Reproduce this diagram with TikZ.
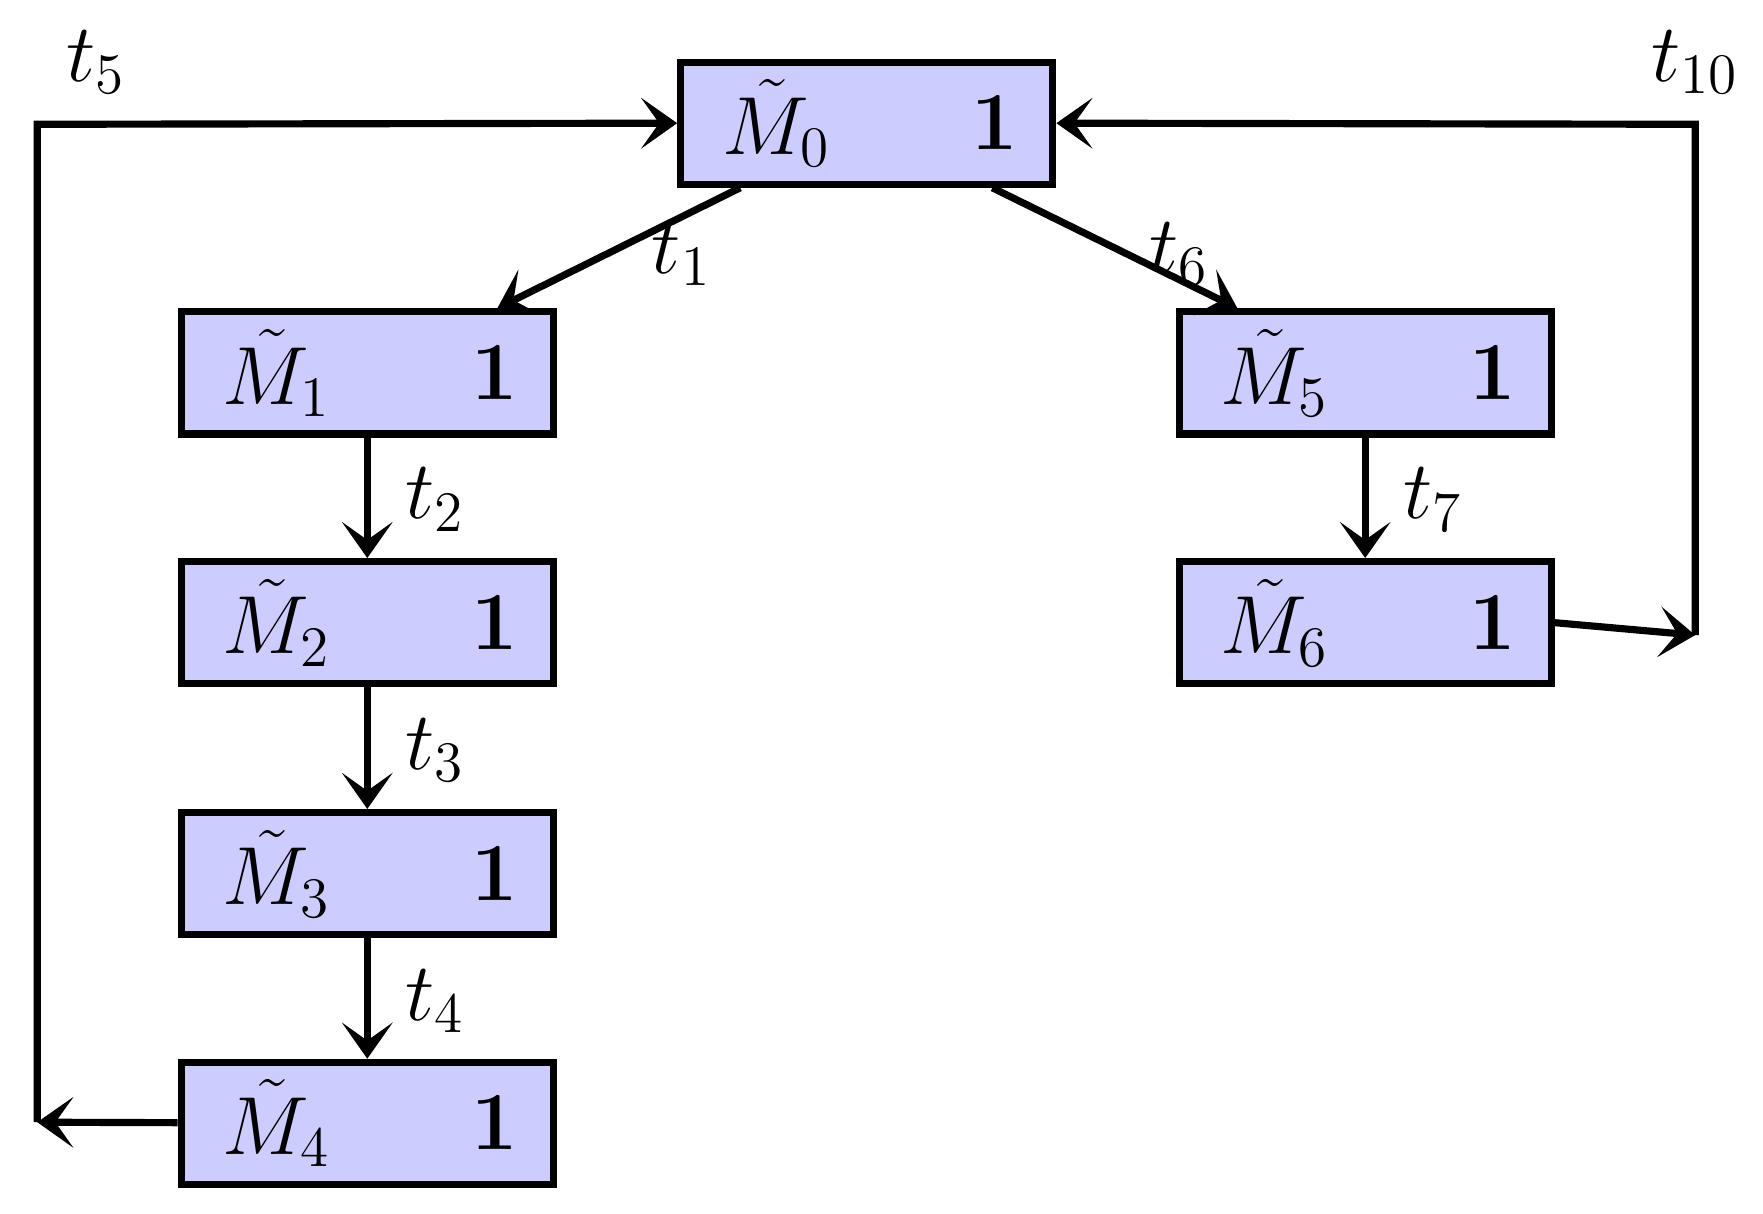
\documentclass[tikz,border=0pt]{standalone}
\usetikzlibrary{arrows.meta}
\begin{document}
\begin{tikzpicture}[x=0.01cm,y=-0.01cm,
  box/.style={draw=black,fill={rgb,255:red,204;green,204;blue,255},line width=1.8pt,minimum width=3.29cm,minimum height=1.08cm,inner sep=0pt},
  arr/.style={line width=1.8pt,-{Stealth[length=3.2mm,width=4.5mm,inset=1.6mm,line width=0.6pt]}},
  lab/.style={font=\fontsize{22}{26}\selectfont}]
\useasboundingbox (0,0) rectangle (1560,1074);
\newcommand{\mybox}[4]{%
  \node[box] (#1) at (#2,#3) {};
  \node[lab] at ([xshift=-0.8cm]#1.center) {$\tilde M_{#4}$};
  \node[lab] at ([xshift=1.13cm]#1.center) {$\mathbf{1}$};}
\mybox{m0}{767}{109}{0}
\mybox{m1}{325}{330}{1}
\mybox{m2}{325}{551}{2}
\mybox{m3}{325}{773}{3}
\mybox{m4}{325}{994}{4}
\mybox{m5}{1208}{330}{5}
\mybox{m6}{1208}{551}{6}
\coordinate (a) at (33,993);
\coordinate (b) at (1500,562);
\draw[arr] ([xshift=-1.12cm]m0.south) -- ([xshift=1.15cm]m1.north);
\draw[arr] ([xshift=1.11cm]m0.south) -- ([xshift=-1.13cm]m5.north);
\draw[arr] (m1) -- (m2);
\draw[arr] (m2) -- (m3);
\draw[arr] (m3) -- (m4);
\draw[arr] (m5) -- (m6);
\draw[arr] (m4) -- (a);
\draw[arr] (a) -- (33,110) -- (m0.west);
\draw[arr] (m6.east) -- (b);
\draw[arr] (b) -- (1500,110) -- (m0.east);
\node[lab] at (603,225) {$t_1$};
\node[lab] at (1043,225) {$t_6$};
\node[lab] at (385,442) {$t_2$};
\node[lab] at (385,664) {$t_3$};
\node[lab] at (385,886) {$t_4$};
\node[lab] at (1268,442) {$t_7$};
\node[lab] at (85,55) {$t_5$};
\node[lab] at (1500,55) {$t_{10}$};
\end{tikzpicture}
\end{document}
